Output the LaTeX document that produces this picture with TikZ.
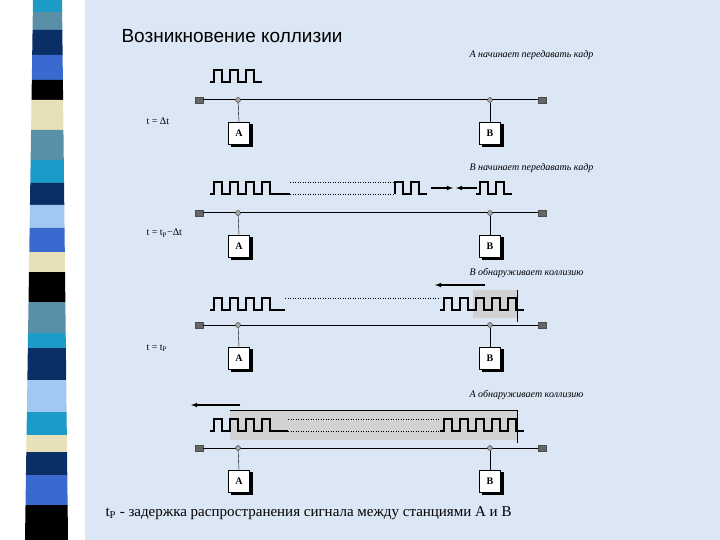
\documentclass[tikz,border=0pt]{standalone}
\usepackage{fontspec}
\setmainfont{Liberation Serif}
\newfontfamily\titlefont{Liberation Sans}
\usetikzlibrary{shadows}
\begin{document}
\begin{tikzpicture}[x=1pt,y=-1pt,
  station/.style={draw,fill=white,minimum width=21,minimum height=22,inner sep=0,font=\fontsize{10}{10}\selectfont\bfseries,
    copy shadow={shadow xshift=2.5pt,shadow yshift=-2.5pt,fill=black,draw=black}},
  tap/.style={circle,draw=black!80,fill=gray!70,inner sep=0,minimum size=5},
  term/.style={draw=black!70,fill=gray!80!black,inner sep=0,minimum width=8,minimum height=6},
  bus/.style={line width=1pt},
  sig/.style={line width=1.3pt},
  dot/.style={dotted,line width=0.5pt},
  captxt/.style={font=\fontsize{10}{10}\selectfont\itshape,anchor=east},
  tlab/.style={font=\fontsize{10}{10}\selectfont,anchor=west},
  arr/.style={-latex,line width=1.1pt}]
\useasboundingbox (0,0) rectangle (720,540);
\fill[white] (0,0) rectangle (720,540);
\definecolor{bgc}{HTML}{DCE7F6}
\fill[bgc] (85,0) rectangle (720,540);
% stripes
\def\stripe#1#2#3{\fill[#3] ({33-8*#1/540},#1) -- ({62+6*#1/540},#1) -- ({62+6*#2/540},#2) -- ({33-8*#2/540},#2) -- cycle;}
\definecolor{cteal}{HTML}{1A9BC8}\definecolor{cgrey}{HTML}{5A8FA8}\definecolor{cnavy}{HTML}{0A2F66}
\definecolor{cblue}{HTML}{3A6AD0}\definecolor{cbeige}{HTML}{E8E0B8}\definecolor{clight}{HTML}{A0C8F0}
\stripe{0}{12}{cteal}\stripe{12}{30}{cgrey}\stripe{30}{55}{cnavy}\stripe{55}{80}{cblue}
\stripe{80}{100}{black}\stripe{100}{130}{cbeige}\stripe{130}{160}{cgrey}\stripe{160}{183}{cteal}
\stripe{183}{205}{cnavy}\stripe{205}{228}{clight}\stripe{228}{252}{cblue}\stripe{252}{272}{cbeige}
\stripe{272}{302}{black}\stripe{302}{333}{cgrey}\stripe{333}{348}{cteal}\stripe{348}{380}{cnavy}
\stripe{380}{412}{clight}\stripe{412}{435}{cteal}\stripe{435}{452}{cbeige}\stripe{452}{475}{cnavy}
\stripe{475}{505}{cblue}\stripe{505}{540}{black}
\node[font=\titlefont\fontsize{19}{19}\selectfont,anchor=west] (title) at (118,36) {Возникновение коллизии};
% generic section
\def\sect#1#2{%
  \node[term] (L#1) at (199,#2) {};
  \node[term] (R#1) at (542,#2) {};
  \draw[bus] (L#1) -- (R#1);
  \node[tap] (ta#1) at (238,#2) {};
  \node[tap] (tb#1) at (490,#2) {};
  \node[station] (A#1) at (239,#2+33) {A};
  \node[station] (B#1) at (490,#2+33) {B};
  \draw (ta#1) -- (A#1.north);
  \draw (tb#1) -- (B#1.north);}
\def\pulses#1#2#3{\draw[sig] (#1,#2) -- ++(4,0) \foreach \i in {1,...,#3}{ -- ++(0,-12) -- ++(8,0) -- ++(0,12) -- ++(8,0)};}
% 1
\node[captxt] (c1) at (597,55) {A начинает передавать кадр};
\pulses{210}{82}{3}
\sect{1}{100}
\node[tlab] (t1) at (143,121) {t = Δt};
% 2
\node[captxt] (c2) at (597,168) {B начинает передавать кадр};
\pulses{210}{194}{4}\draw[sig] (278,194) -- (290,194);
\draw[dot] (290,182) -- (395,182); \draw[dot] (290,194) -- (395,194);
\draw[sig] (395,194) \foreach \i in {1,2}{ -- ++(0,-12) -- ++(8,0) -- ++(0,12) -- ++(8,0)};
\coordinate (a2s) at (431,188); \coordinate (a2e) at (453,188);
\coordinate (b2s) at (477,188); \coordinate (b2e) at (456,188);
\draw[arr] (a2s) -- (a2e); \draw[arr] (b2s) -- (b2e);
\pulses{476}{194}{2}
\sect{2}{213}
\node[tlab] (t2) at (143,233) {t = t\textsubscript{P}−Δt};
% 3
\node[captxt] (c3) at (587,273) {B обнаруживает коллизию};
\coordinate (a3s) at (485,285); \coordinate (a3e) at (435,285);
\draw[arr] (a3s) -- (a3e);
\fill[gray!35] (473,290) rectangle (517,318);
\pulses{210}{310}{4}\draw[sig] (278,310) -- (285,310);
\draw[dot] (285,298) -- (440,298);
\draw[sig] (440,310) -- ++(4,0) \foreach \i in {1,...,5}{ -- ++(0,-12) -- ++(8,0) -- ++(0,12) -- ++(8,0)};
\draw (517,290) -- (517,322);
\sect{3}{325}
\node[tlab] (t3) at (143,348) {t = t\textsubscript{P}};
% 4
\node[captxt] (c4) at (587,395) {A обнаруживает коллизию};
\coordinate (a4s) at (240,405); \coordinate (a4e) at (191,405);
\draw[arr] (a4s) -- (a4e);
\fill[gray!35] (230,410) rectangle (517,440);
\draw (230,410) -- (517,410) -- (517,443);
\pulses{210}{431}{4}\draw[sig] (278,431) -- (288,431);
\draw[dot] (288,419) -- (440,419); \draw[dot] (288,431) -- (440,431);
\draw[sig] (440,431) -- ++(4,0) \foreach \i in {1,...,5}{ -- ++(0,-12) -- ++(8,0) -- ++(0,12) -- ++(8,0)};
\sect{4}{448}
\node[font=\fontsize{15}{15}\selectfont,anchor=west] (foot) at (102,513) {t\textsubscript{P} - задержка распространения сигнала между станциями A и B};
\end{tikzpicture}
\end{document}
